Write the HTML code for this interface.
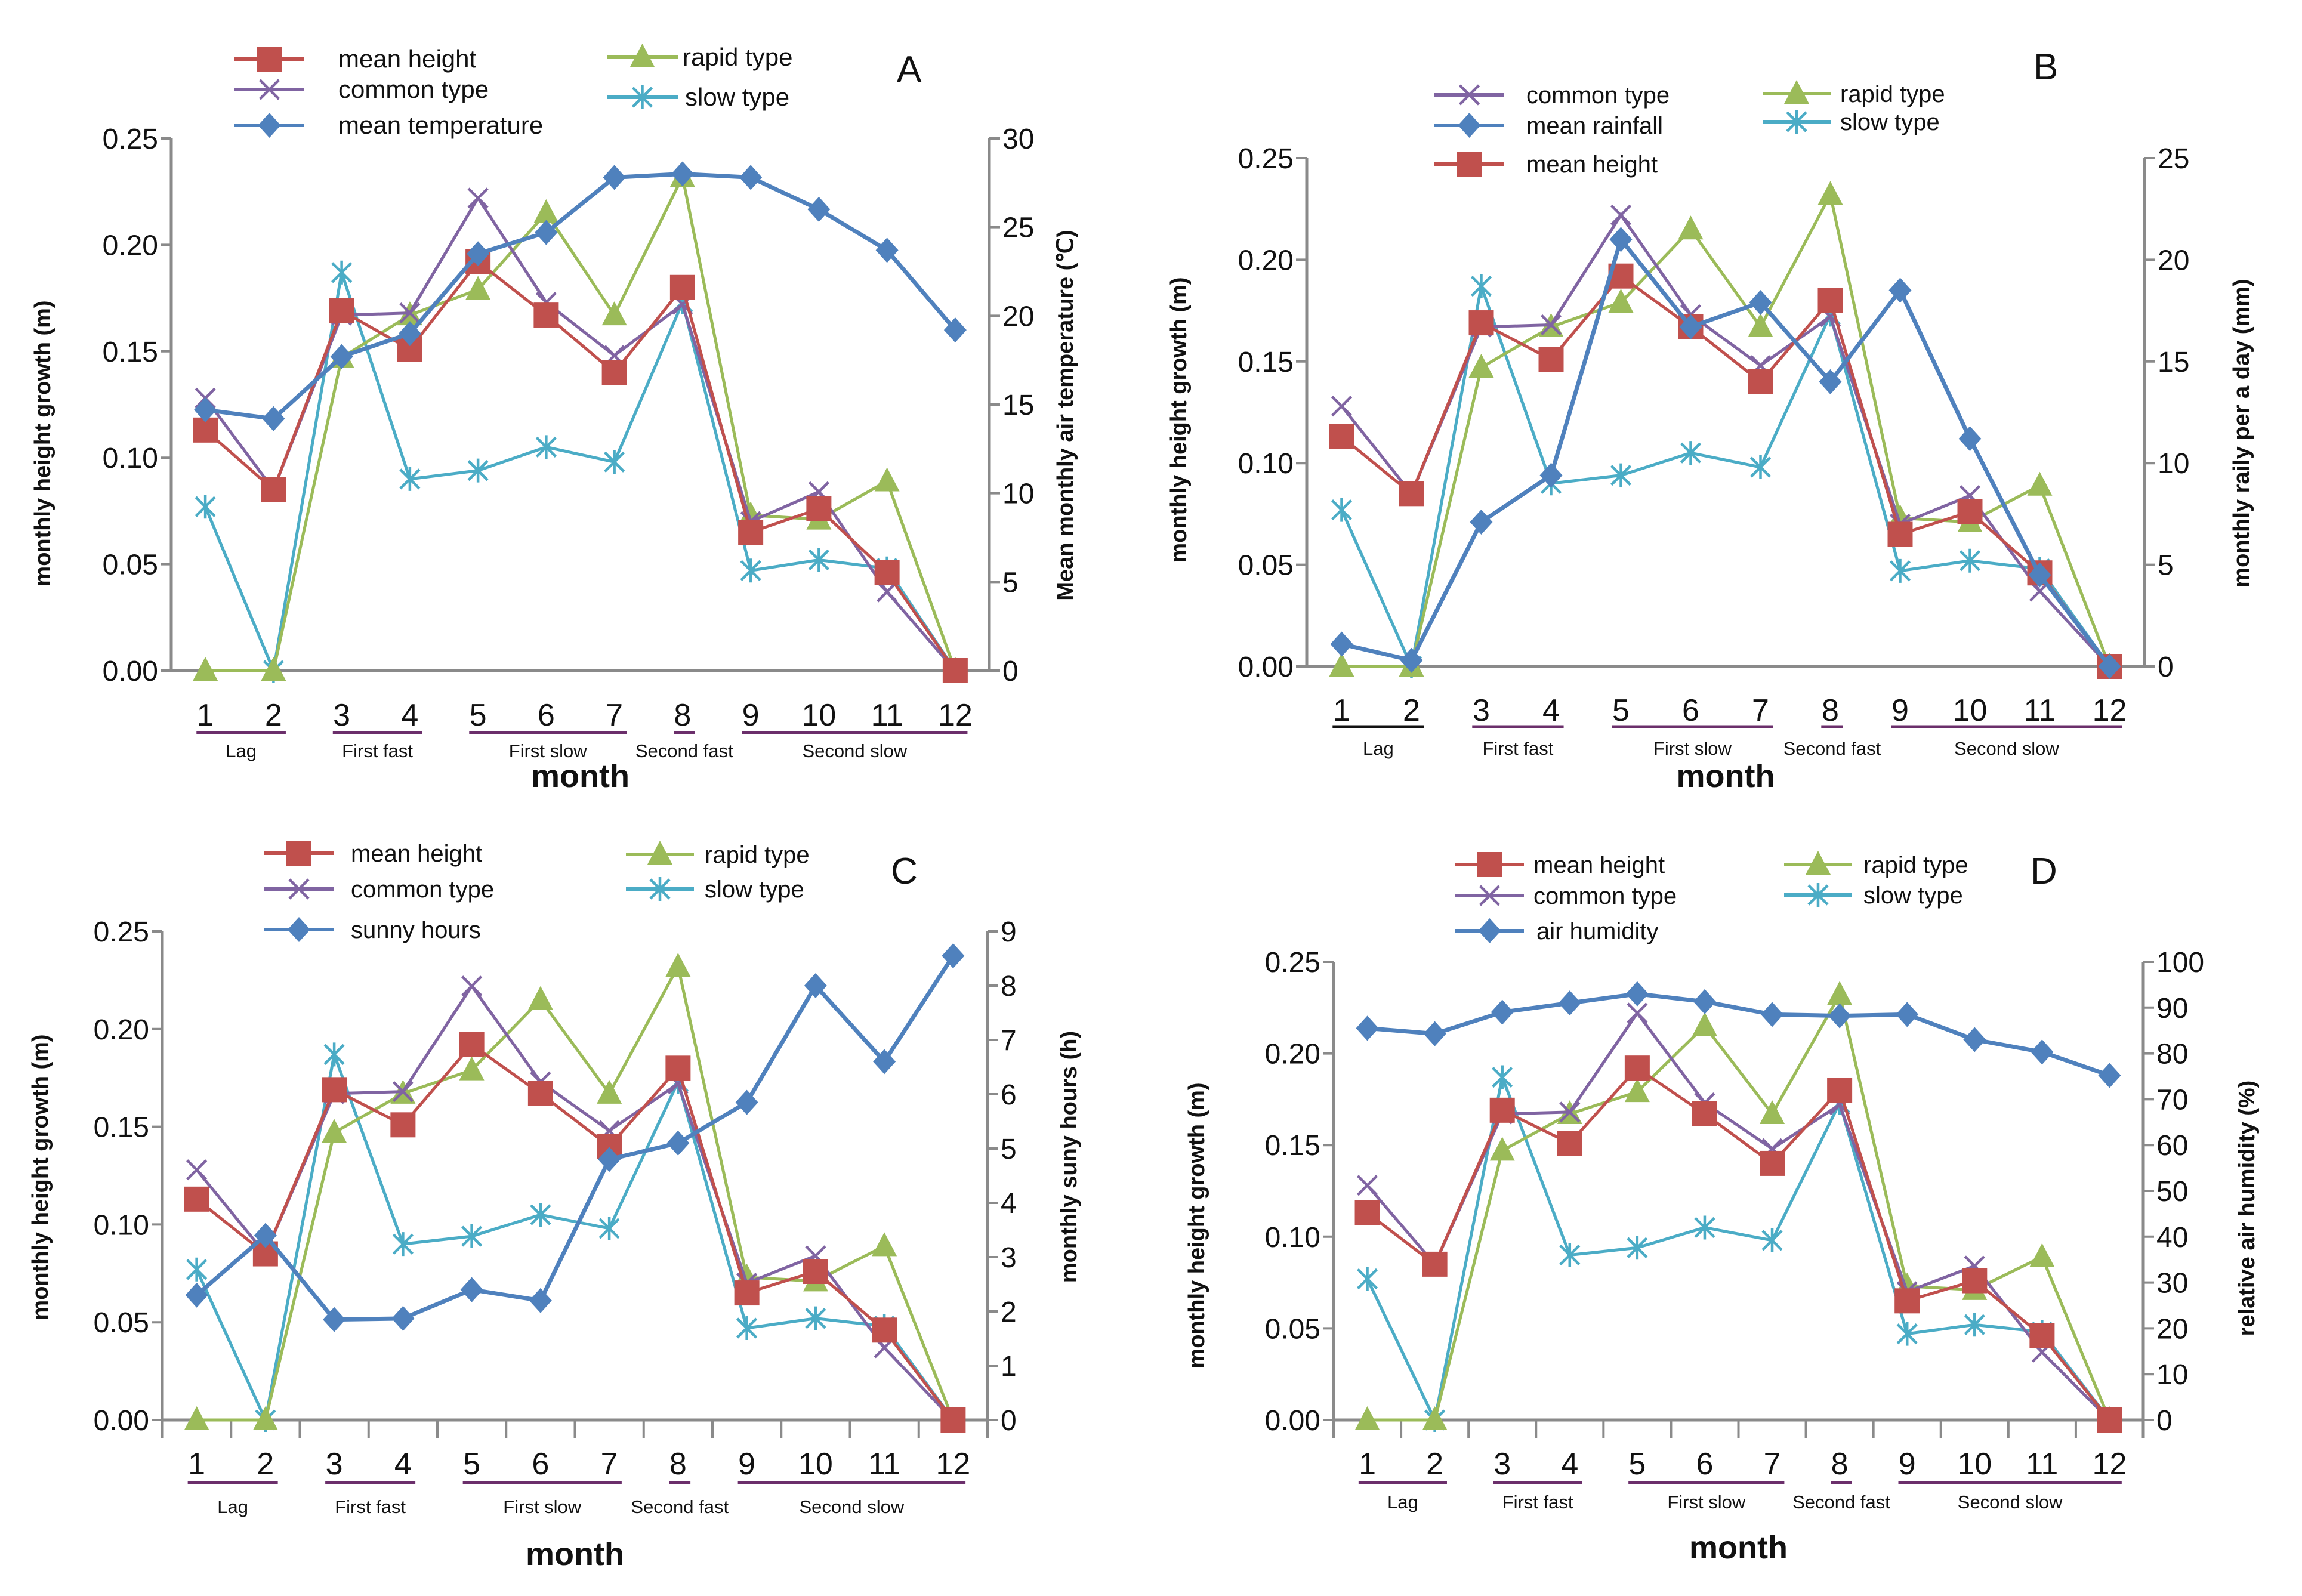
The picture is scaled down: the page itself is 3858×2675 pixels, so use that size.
<!DOCTYPE html>
<html><head><meta charset="utf-8"><style>
html,body{margin:0;padding:0;background:#fff;}
svg{display:block;}
text{font-family:"Liberation Sans",sans-serif;fill:#111;}
</style></head>
<body>
<svg id="fig" width="3858" height="2675" viewBox="0 0 3858 2675" xmlns="http://www.w3.org/2000/svg"></svg>
<script>
const months = ['1','2','3','4','5','6','7','8','9','10','11','12'];
const meanHeight = [0.113,0.085,0.169,0.151,0.192,0.167,0.140,0.180,0.065,0.076,0.046,0.000];
const commonType = [0.128,0.085,0.167,0.168,0.222,0.173,0.148,0.172,0.070,0.084,0.037,0.000];
const rapidType  = [0.000,0.000,0.147,0.167,0.179,0.215,0.167,0.232,0.073,0.071,0.089,0.000];
const slowType   = [0.077,0.000,0.187,0.090,0.094,0.105,0.098,0.173,0.047,0.052,0.048,0.000];
const temperature = [14.7,14.2,17.7,19.0,23.5,24.7,27.8,28.0,27.8,26.0,23.7,19.2];
const rainfall = [1.1,0.3,7.1,9.4,21.0,16.7,17.9,14.0,18.5,11.2,4.5,0.0];
const sunnyHours = [2.3,3.4,1.85,1.87,2.4,2.2,4.8,5.1,5.85,8.0,6.6,8.55];
const humidity = [85.5,84.3,89.0,91.0,93.0,91.3,88.5,88.2,88.5,83.0,80.3,75.2];
const leftTicks = ['0.00','0.05','0.10','0.15','0.20','0.25'];
const rightTicksA = ['0','5','10','15','20','25','30'];
const rightTicksB = ['0','5','10','15','20','25'];
const rightTicksC = ['0','1','2','3','4','5','6','7','8','9'];
const rightTicksD = ['0','10','20','30','40','50','60','70','80','90','100'];
const phaseNames = ['Lag','First fast','First slow','Second fast','Second slow'];
const phaseStart = [1,3,5,8,9];
const phaseEnd = [2,4,7,8,12];

const NS='http://www.w3.org/2000/svg';
const svg=document.getElementById('fig');
const C={red:'#c0504d',purple:'#8064a2',green:'#9bbb59',cyan:'#4bacc6',blue:'#4f81bd',axis:'#8a8a8a',phase:'#6b2f6b'};
function el(tag,attrs,parent){const e=document.createElementNS(NS,tag);for(const k in attrs)e.setAttribute(k,attrs[k]);(parent||svg).appendChild(e);return e;}
function txt(s,attrs,parent){const t=el('text',attrs,parent);t.textContent=s;return t;}

function marker(g,type,x,y,color){
  if(type==='square'){el('rect',{x:x-21,y:y-21,width:42,height:42,fill:color},g);}
  else if(type==='diamond'){el('polygon',{points:`${x},${y-21} ${x+19},${y} ${x},${y+21} ${x-19},${y}`,fill:color},g);}
  else if(type==='triangle'){el('polygon',{points:`${x},${y-23} ${x+21},${y+17} ${x-21},${y+17}`,fill:color},g);}
  else if(type==='x'){el('path',{d:`M${x-16},${y-16}L${x+16},${y+16}M${x+16},${y-16}L${x-16},${y+16}`,stroke:color,'stroke-width':4.5,fill:'none'},g);}
  else if(type==='star'){el('path',{d:`M${x-16},${y-16}L${x+16},${y+16}M${x+16},${y-16}L${x-16},${y+16}M${x},${y-20}L${x},${y+20}`,stroke:color,'stroke-width':4.5,fill:'none'},g);}
}

function panel(P){
  const g=el('g',{});
  
  
  const w=(P.R-P.L)/12;
  const xs=i=>P.L+w*(i+0.5);
  const yl=v=>P.B-(v/0.25)*(P.B-P.T);
  const yr=v=>P.B-(v/P.rmax)*(P.B-P.T);
  const ax=el('path',{d:`M${P.L},${P.T}L${P.L},${P.B+(P.xt?30:0)}M${P.R},${P.T}L${P.R},${P.B+(P.xt?30:0)}M${P.L},${P.B}L${P.R},${P.B}`,stroke:C.axis,'stroke-width':5,fill:'none'},g);
   
  if(P.xt){for(let i=1;i<12;i++){el('line',{x1:P.L+w*i,x2:P.L+w*i,y1:P.B,y2:P.B+30,stroke:C.axis,'stroke-width':4},g);}}
  leftTicks.forEach((t,i)=>{const v=i*0.05,y=yl(v);
    el('line',{x1:P.L-18,x2:P.L,y1:y,y2:y,stroke:C.axis,'stroke-width':4},g);
    const tt=txt(t,{x:P.L-22,y:y+17,'font-size':48,'text-anchor':'end'},g);
     });
  P.rticks.forEach((t,i)=>{const v=i*P.rstep,y=yr(v);
    el('line',{x1:P.R,x2:P.R+18,y1:y,y2:y,stroke:C.axis,'stroke-width':4},g);
    const tt=txt(t,{x:P.R+22,y:y+17,'font-size':48},g);
     });
  months.forEach((m,i)=>{const tt=txt(m,{x:xs(i),y:P.my+18,'font-size':52,'text-anchor':'middle'},g);
     });
  phaseNames.forEach((n,i)=>{
    const x1=xs(phaseStart[i]-1)-0.13*w, x2=xs(phaseEnd[i]-1)+0.18*w;
    el('line',{x1:x1,x2:x2,y1:P.ly,y2:P.ly,stroke:(P.id==='B'&&i===0)?'#111':C.phase,'stroke-width':5},g);
    const tt=txt(n,{x:(x1+x2)/2,y:P.py+11,'font-size':31,'text-anchor':'middle'},g);
     });
  const mt=txt('month',{x:(P.L+P.R)/2,y:P.monthY+18,'font-size':54,'font-weight':'bold','text-anchor':'middle'},g);
   
  const lt=txt('monthly height growth (m)',{x:0,y:0,'font-size':38,'font-weight':'bold','text-anchor':'middle',transform:`translate(${P.ltx},${P.lty}) rotate(-90)`},g);
   
  const rt=txt(P.rtitle,{x:0,y:0,'font-size':38,'font-weight':'bold','text-anchor':'middle',transform:`translate(${P.rtx},${P.rty}) rotate(-90)`},g);
   
  const pl=txt(P.id,{x:P.idx,y:P.idy,'font-size':62},g);
   
  const series=[
    {vals:slowType,color:C.cyan,m:'star',sc:yl,name:'slow-type'},
    {vals:rapidType,color:C.green,m:'triangle',sc:yl,name:'rapid-type'},
    {vals:commonType,color:C.purple,m:'x',sc:yl,name:'common-type'},
    {vals:meanHeight,color:C.red,m:'square',sc:yl,name:'mean-height'},
    {vals:P.rdata,color:C.blue,m:'diamond',sc:yr,name:P.rname}];
  series.forEach(s=>{
    const sg=el('g',{},g);
    
    
    const pts=s.vals.map((v,i)=>`${xs(i)},${s.sc(v)}`).join(' ');
    el('polyline',{points:pts,fill:'none',stroke:s.color,'stroke-width':s.m==='diamond'?7:5,'stroke-linejoin':'round'},sg);
    s.vals.forEach((v,i)=>marker(sg,s.m,xs(i),s.sc(v),s.color));
  });
  P.legend.forEach(e=>{
    const lg=el('g',{},g);
    
    
    el('line',{x1:e.x1,x2:e.x2,y1:e.y,y2:e.y,stroke:e.c,'stroke-width':6},lg);
    marker(lg,e.m,(e.x1+e.x2)/2,e.y,e.c);
    txt(e.t,{x:e.tx,y:e.y+14,'font-size':P.legSerif?42:40,'font-family':P.legSerif?'"Liberation Serif",serif':'"Liberation Sans",sans-serif'},lg);
  });
}

panel({id:'A',L:287,R:1658,T:232,B:1124,xt:false,rmax:30,rstep:5,rticks:rightTicksA,rdata:temperature,rname:'mean-temperature',
  my:1198,ly:1228,py:1258,monthY:1301,ltx:84,lty:743,rtx:1798,rty:696,rtitle:'Mean monthly air temperature (℃)',idx:1503,idy:137,legSerif:true,
  legend:[{x1:393,x2:510,y:99,c:C.red,m:'square',t:'mean height',tx:567},
          {x1:393,x2:510,y:150,c:C.purple,m:'x',t:'common type',tx:567},
          {x1:393,x2:510,y:210,c:C.blue,m:'diamond',t:'mean temperature',tx:567},
          {x1:1017,x2:1136,y:96,c:C.green,m:'triangle',t:'rapid type',tx:1144},
          {x1:1017,x2:1136,y:163,c:C.cyan,m:'star',t:'slow type',tx:1148}]});
panel({id:'B',L:2190,R:3594,T:265,B:1117,xt:false,rmax:25,rstep:5,rticks:rightTicksB,rdata:rainfall,rname:'mean-rainfall',
  my:1190,ly:1218,py:1254,monthY:1301,ltx:1988,lty:704,rtx:3769,rty:726,rtitle:'monthly raily per a day (mm)',idx:3408,idy:133,
  legend:[{x1:2404,x2:2521,y:159,c:C.purple,m:'x',t:'common type',tx:2558},
          {x1:2404,x2:2521,y:210,c:C.blue,m:'diamond',t:'mean  rainfall',tx:2558},
          {x1:2404,x2:2521,y:275,c:C.red,m:'square',t:'mean height',tx:2558},
          {x1:2954,x2:3068,y:157,c:C.green,m:'triangle',t:'rapid type',tx:3084},
          {x1:2954,x2:3068,y:204,c:C.cyan,m:'star',t:'slow  type',tx:3084}]});
panel({id:'C',L:272,R:1655,T:1561,B:2380,xt:true,rmax:9,rstep:1,rticks:rightTicksC,rdata:sunnyHours,rname:'sunny-hours',
  my:2453,ly:2485,py:2525,monthY:2605,ltx:80,lty:1973,rtx:1804,rty:1939,rtitle:'monthly suny hours (h)',idx:1493,idy:1481,
  legend:[{x1:443,x2:559,y:1430,c:C.red,m:'square',t:'mean height',tx:588},
          {x1:443,x2:559,y:1490,c:C.purple,m:'x',t:'common type',tx:588},
          {x1:443,x2:559,y:1558,c:C.blue,m:'diamond',t:'sunny hours',tx:588},
          {x1:1049,x2:1163,y:1432,c:C.green,m:'triangle',t:'rapid type',tx:1181},
          {x1:1049,x2:1163,y:1490,c:C.cyan,m:'star',t:'slow type',tx:1181}]});
panel({id:'D',L:2235,R:3592,T:1612,B:2380,xt:true,rmax:100,rstep:10,rticks:rightTicksD,rdata:humidity,rname:'air-humidity',
  my:2453,ly:2485,py:2517,monthY:2594,ltx:2018,lty:2054,rtx:3778,rty:2025,rtitle:'relative air humidity (%)',idx:3403,idy:1481,
  legend:[{x1:2439,x2:2554,y:1449,c:C.red,m:'square',t:'mean height',tx:2570},
          {x1:2439,x2:2554,y:1501,c:C.purple,m:'x',t:'common type',tx:2570},
          {x1:2439,x2:2554,y:1560,c:C.blue,m:'diamond',t:'air humidity',tx:2575},
          {x1:2990,x2:3104,y:1449,c:C.green,m:'triangle',t:'rapid type',tx:3123},
          {x1:2990,x2:3104,y:1500,c:C.cyan,m:'star',t:'slow type',tx:3123}]});
</script>
</body></html>
